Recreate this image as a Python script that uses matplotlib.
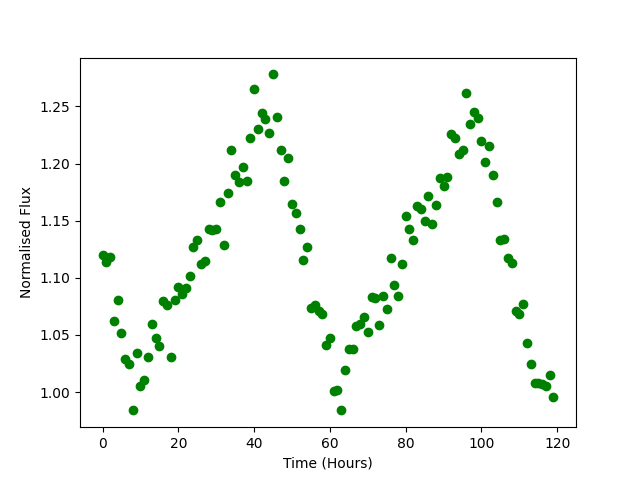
import numpy as np
import matplotlib
matplotlib.use("Agg")
import matplotlib.pyplot as plt

# time in hours, one reading per hour
time = np.arange(120)

# normalised flux
flux = [
    1.120, 1.114, 1.118, 1.062, 1.081, 1.052, 1.029, 1.025, 0.984, 1.034,
    1.005, 1.011, 1.031, 1.060, 1.047, 1.040, 1.080, 1.076, 1.031, 1.081,
    1.092, 1.086, 1.091, 1.102, 1.127, 1.133, 1.112, 1.115, 1.143, 1.142,
    1.143, 1.166, 1.129, 1.174, 1.212, 1.190, 1.184, 1.197, 1.185, 1.222,
    1.265, 1.230, 1.244, 1.239, 1.227, 1.278, 1.241, 1.212, 1.185, 1.205,
    1.165, 1.157, 1.143, 1.116, 1.127, 1.074, 1.076, 1.071, 1.068, 1.041,
    1.047, 1.001, 1.002, 0.984, 1.019, 1.038, 1.038, 1.058, 1.060, 1.066,
    1.053, 1.083, 1.082, 1.059, 1.084, 1.073, 1.117, 1.094, 1.084, 1.112,
    1.154, 1.143, 1.133, 1.163, 1.160, 1.150, 1.172, 1.147, 1.164, 1.187,
    1.180, 1.188, 1.226, 1.222, 1.208, 1.212, 1.262, 1.235, 1.245, 1.240,
    1.220, 1.201, 1.215, 1.190, 1.166, 1.133, 1.134, 1.117, 1.113, 1.071,
    1.068, 1.077, 1.043, 1.025, 1.008, 1.008, 1.007, 1.005, 1.015, 0.996,
]

fig, ax = plt.subplots(figsize=(6.4, 4.8), dpi=100)
ax.plot(time, flux, "o", color="green")
ax.set_xlabel("Time (Hours)")
ax.set_ylabel("Normalised Flux")

plt.savefig("out.png")
